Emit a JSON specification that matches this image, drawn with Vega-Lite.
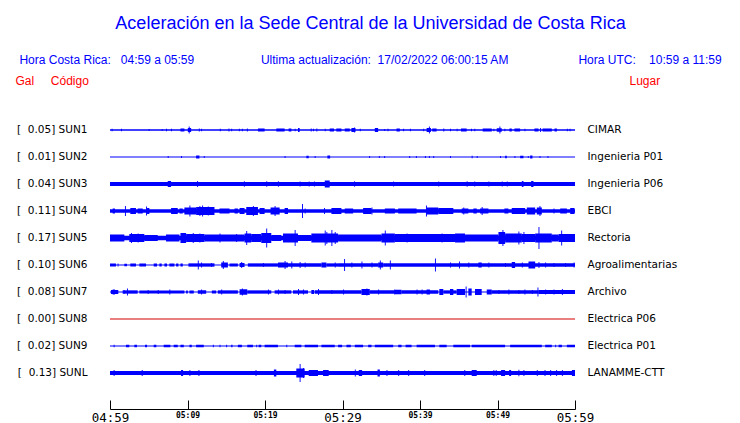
{
  "$schema": "https://vega.github.io/schema/vega-lite/v6.json",
  "width": 465,
  "height": 315,
  "autosize": {"type": "none"},
  "padding": {"left": 110, "top": 94, "right": 165, "bottom": 14},
  "background": "white",
  "config": {"view": {"stroke": null}},
  "title": {
    "text": "Aceleración en la Sede Central de la Universidad de Costa Rica",
    "subtitle": "Hora Costa Rica:\u00a0\u00a0\u00a004:59 a 05:59\u00a0\u00a0\u00a0\u00a0\u00a0\u00a0\u00a0\u00a0\u00a0\u00a0\u00a0\u00a0\u00a0\u00a0\u00a0\u00a0\u00a0\u00a0\u00a0\u00a0Ultima actualización:\u00a0\u00a017/02/2022 06:00:15 AM\u00a0\u00a0\u00a0\u00a0\u00a0\u00a0\u00a0\u00a0\u00a0\u00a0\u00a0\u00a0\u00a0\u00a0\u00a0\u00a0\u00a0\u00a0\u00a0\u00a0\u00a0Hora UTC:\u00a0\u00a0\u00a0\u00a010:59 a 11:59",
    "color": "#0000ff",
    "subtitleColor": "#0000ff",
    "font": "Liberation Sans",
    "fontSize": 18,
    "fontWeight": "normal",
    "subtitleFont": "Liberation Sans",
    "subtitleFontSize": 12,
    "anchor": "middle",
    "frame": "group",
    "dx": 28,
    "offset": 8,
    "subtitlePadding": 22
  },
  "datasets": {
    "estaciones": [
      {"codigo": "SUN1", "gal": 0.05, "etiqueta": "[\u00a0\u00a00.05] SUN1", "lugar": "CIMAR", "ruido": 1.3},
      {"codigo": "SUN2", "gal": 0.01, "etiqueta": "[\u00a0\u00a00.01] SUN2", "lugar": "Ingenieria P01", "ruido": 1.1},
      {"codigo": "SUN3", "gal": 0.04, "etiqueta": "[\u00a0\u00a00.04] SUN3", "lugar": "Ingenieria P06", "ruido": 4},
      {"codigo": "SUN4", "gal": 0.11, "etiqueta": "[\u00a0\u00a00.11] SUN4", "lugar": "EBCI", "ruido": 3.3},
      {"codigo": "SUN5", "gal": 0.17, "etiqueta": "[\u00a0\u00a00.17] SUN5", "lugar": "Rectoria", "ruido": 4.5},
      {"codigo": "SUN6", "gal": 0.10, "etiqueta": "[\u00a0\u00a00.10] SUN6", "lugar": "Agroalimentarias", "ruido": 1},
      {"codigo": "SUN7", "gal": 0.08, "etiqueta": "[\u00a0\u00a00.08] SUN7", "lugar": "Archivo", "ruido": 1},
      {"codigo": "SUN8", "gal": 0.00, "etiqueta": "[\u00a0\u00a00.00] SUN8", "lugar": "Electrica P06", "ruido": 1},
      {"codigo": "SUN9", "gal": 0.02, "etiqueta": "[\u00a0\u00a00.02] SUN9", "lugar": "Electrica P01", "ruido": 1},
      {"codigo": "SUNL", "gal": 0.13, "etiqueta": "[\u00a0\u00a00.13] SUNL", "lugar": "LANAMME-CTT", "ruido": 4}
    ],
    "senal": [
      {"s":"SUN1","t0":0.21,"t1":0.33,"a":2.5},{"s":"SUN1","t0":1.42,"t1":1.54,"a":2.5},{"s":"SUN1","t0":4.99,"t1":5.11,"a":2},{"s":"SUN1","t0":6.67,"t1":6.79,"a":2},{"s":"SUN1","t0":7.23,"t1":7.35,"a":2.5},{"s":"SUN1","t0":7.88,"t1":8.0,"a":2.5},{"s":"SUN1","t0":9.09,"t1":9.6,"a":3},{"s":"SUN1","t0":10.04,"t1":10.47,"a":4},{"s":"SUN1","t0":10.16,"t1":10.28,"a":7},{"s":"SUN1","t0":11.46,"t1":11.58,"a":3},{"s":"SUN1","t0":11.76,"t1":11.88,"a":2.5},{"s":"SUN1","t0":14.17,"t1":14.29,"a":2.5},{"s":"SUN1","t0":15.29,"t1":15.41,"a":3},{"s":"SUN1","t0":15.64,"t1":15.76,"a":2.5},{"s":"SUN1","t0":16.63,"t1":16.75,"a":2.5},{"s":"SUN1","t0":17.02,"t1":17.14,"a":2.5},{"s":"SUN1","t0":17.66,"t1":17.78,"a":3},{"s":"SUN1","t0":19.09,"t1":19.95,"a":3},{"s":"SUN1","t0":21.46,"t1":22.53,"a":3},{"s":"SUN1","t0":23.05,"t1":23.4,"a":3},{"s":"SUN1","t0":23.83,"t1":23.95,"a":2.5},{"s":"SUN1","t0":24.26,"t1":24.47,"a":4},{"s":"SUN1","t0":25.9,"t1":26.02,"a":3},{"s":"SUN1","t0":26.2,"t1":26.32,"a":2.5},{"s":"SUN1","t0":26.63,"t1":26.75,"a":3},{"s":"SUN1","t0":27.71,"t1":27.83,"a":2.5},{"s":"SUN1","t0":28.35,"t1":28.9,"a":3},{"s":"SUN1","t0":29.2,"t1":29.86,"a":3},{"s":"SUN1","t0":30.29,"t1":30.94,"a":3},{"s":"SUN1","t0":31.15,"t1":31.67,"a":4},{"s":"SUN1","t0":31.5,"t1":31.62,"a":5},{"s":"SUN1","t0":32.23,"t1":32.35,"a":2.5},{"s":"SUN1","t0":34.17,"t1":34.6,"a":4},{"s":"SUN1","t0":35.38,"t1":35.5,"a":2},{"s":"SUN1","t0":35.81,"t1":35.93,"a":2.5},{"s":"SUN1","t0":36.97,"t1":37.4,"a":3},{"s":"SUN1","t0":37.83,"t1":37.95,"a":2.5},{"s":"SUN1","t0":38.7,"t1":38.82,"a":2.5},{"s":"SUN1","t0":40.42,"t1":40.54,"a":2.5},{"s":"SUN1","t0":40.85,"t1":41.41,"a":4},{"s":"SUN1","t0":41.15,"t1":41.27,"a":7},{"s":"SUN1","t0":41.58,"t1":42.14,"a":3},{"s":"SUN1","t0":43.01,"t1":43.13,"a":3},{"s":"SUN1","t0":43.87,"t1":43.99,"a":2.5},{"s":"SUN1","t0":44.73,"t1":44.85,"a":2.5},{"s":"SUN1","t0":45.29,"t1":46.02,"a":3},{"s":"SUN1","t0":46.58,"t1":46.7,"a":2.5},{"s":"SUN1","t0":47.01,"t1":47.13,"a":2.5},{"s":"SUN1","t0":48.09,"t1":49.26,"a":3},{"s":"SUN1","t0":49.47,"t1":49.59,"a":2.5},{"s":"SUN1","t0":49.9,"t1":50.55,"a":3.5},{"s":"SUN1","t0":50.25,"t1":50.37,"a":7},{"s":"SUN1","t0":50.89,"t1":51.01,"a":2.5},{"s":"SUN1","t0":51.54,"t1":51.84,"a":3},{"s":"SUN1","t0":52.19,"t1":52.92,"a":3},{"s":"SUN1","t0":53.48,"t1":53.6,"a":2.5},{"s":"SUN1","t0":54.77,"t1":55.29,"a":3},{"s":"SUN1","t0":55.5,"t1":55.62,"a":4},{"s":"SUN1","t0":55.81,"t1":57.01,"a":3},{"s":"SUN1","t0":57.36,"t1":57.66,"a":3},{"s":"SUN1","t0":58.95,"t1":59.07,"a":2.5},{"s":"SUN1","t0":59.3,"t1":59.42,"a":2.5},

      {"s":"SUN2","t0":7.45,"t1":7.57,"a":2},{"s":"SUN2","t0":9.17,"t1":9.29,"a":2},{"s":"SUN2","t0":11.11,"t1":11.54,"a":3},{"s":"SUN2","t0":12.1,"t1":12.22,"a":2},{"s":"SUN2","t0":22.53,"t1":22.65,"a":2},{"s":"SUN2","t0":25.34,"t1":25.64,"a":2.5},{"s":"SUN2","t0":26.41,"t1":26.53,"a":2},{"s":"SUN2","t0":28.05,"t1":28.4,"a":3},{"s":"SUN2","t0":33.44,"t1":33.56,"a":2},{"s":"SUN2","t0":34.69,"t1":34.81,"a":2},{"s":"SUN2","t0":35.38,"t1":35.5,"a":2},{"s":"SUN2","t0":38.61,"t1":38.73,"a":2},{"s":"SUN2","t0":39.47,"t1":39.59,"a":2},{"s":"SUN2","t0":40.64,"t1":40.76,"a":2},{"s":"SUN2","t0":41.15,"t1":41.27,"a":2},{"s":"SUN2","t0":41.71,"t1":41.83,"a":2},{"s":"SUN2","t0":43.87,"t1":43.99,"a":2},{"s":"SUN2","t0":46.67,"t1":46.79,"a":2.5},{"s":"SUN2","t0":47.32,"t1":47.44,"a":2},{"s":"SUN2","t0":50.33,"t1":50.45,"a":2},{"s":"SUN2","t0":50.98,"t1":51.2,"a":2.5},{"s":"SUN2","t0":52.19,"t1":52.31,"a":2},{"s":"SUN2","t0":52.92,"t1":53.35,"a":2.5},{"s":"SUN2","t0":53.91,"t1":54.03,"a":2},{"s":"SUN2","t0":54.21,"t1":54.51,"a":3},{"s":"SUN2","t0":55.42,"t1":55.54,"a":2},{"s":"SUN2","t0":56.45,"t1":56.57,"a":2},

      {"s":"SUN3","t0":7.45,"t1":7.88,"a":6},{"s":"SUN3","t0":11.24,"t1":11.36,"a":6},{"s":"SUN3","t0":17.28,"t1":17.4,"a":5.5},{"s":"SUN3","t0":20.16,"t1":20.28,"a":5.5},{"s":"SUN3","t0":21.67,"t1":21.79,"a":5.5},{"s":"SUN3","t0":24.47,"t1":24.59,"a":5},{"s":"SUN3","t0":25.64,"t1":25.76,"a":5},{"s":"SUN3","t0":26.33,"t1":26.45,"a":5},{"s":"SUN3","t0":27.71,"t1":28.35,"a":7},{"s":"SUN3","t0":31.5,"t1":31.62,"a":5.5},{"s":"SUN3","t0":36.54,"t1":36.66,"a":5},{"s":"SUN3","t0":42.36,"t1":42.48,"a":5},{"s":"SUN3","t0":46.02,"t1":46.14,"a":5.5},{"s":"SUN3","t0":47.01,"t1":47.13,"a":5},{"s":"SUN3","t0":48.83,"t1":48.95,"a":5},{"s":"SUN3","t0":50.55,"t1":50.67,"a":5},{"s":"SUN3","t0":51.2,"t1":51.32,"a":5},{"s":"SUN3","t0":53.14,"t1":53.35,"a":6},{"s":"SUN3","t0":54.34,"t1":54.64,"a":6},

      {"s":"SUN4","t0":0.34,"t1":0.64,"a":5},{"s":"SUN4","t0":1.93,"t1":2.05,"a":10},{"s":"SUN4","t0":2.62,"t1":3.35,"a":6},{"s":"SUN4","t0":3.57,"t1":4.22,"a":5},{"s":"SUN4","t0":4.65,"t1":4.77,"a":9},{"s":"SUN4","t0":4.78,"t1":5.08,"a":6},{"s":"SUN4","t0":7.88,"t1":8.74,"a":6},{"s":"SUN4","t0":8.96,"t1":9.39,"a":5},{"s":"SUN4","t0":9.6,"t1":11.11,"a":7},{"s":"SUN4","t0":10.25,"t1":10.37,"a":11},{"s":"SUN4","t0":11.11,"t1":13.48,"a":8},{"s":"SUN4","t0":11.54,"t1":11.66,"a":10},{"s":"SUN4","t0":11.89,"t1":12.01,"a":11},{"s":"SUN4","t0":12.62,"t1":12.74,"a":9},{"s":"SUN4","t0":14.13,"t1":15.42,"a":5},{"s":"SUN4","t0":16.07,"t1":16.5,"a":5},{"s":"SUN4","t0":16.72,"t1":17.36,"a":6},{"s":"SUN4","t0":17.58,"t1":19.09,"a":8},{"s":"SUN4","t0":18.44,"t1":18.56,"a":10},{"s":"SUN4","t0":19.3,"t1":19.95,"a":6},{"s":"SUN4","t0":20.72,"t1":21.89,"a":7},{"s":"SUN4","t0":21.24,"t1":21.36,"a":10},{"s":"SUN4","t0":22.53,"t1":22.97,"a":6},{"s":"SUN4","t0":24.78,"t1":24.9,"a":14},{"s":"SUN4","t0":25.12,"t1":25.24,"a":5},{"s":"SUN4","t0":27.62,"t1":27.74,"a":6},{"s":"SUN4","t0":28.57,"t1":29.86,"a":6},{"s":"SUN4","t0":30.29,"t1":31.37,"a":5},{"s":"SUN4","t0":32.66,"t1":33.74,"a":6},{"s":"SUN4","t0":33.74,"t1":33.86,"a":7},{"s":"SUN4","t0":35.46,"t1":36.76,"a":5},{"s":"SUN4","t0":37.19,"t1":39.56,"a":5},{"s":"SUN4","t0":40.77,"t1":40.89,"a":11},{"s":"SUN4","t0":40.85,"t1":42.36,"a":7},{"s":"SUN4","t0":42.36,"t1":44.3,"a":6},{"s":"SUN4","t0":45.38,"t1":46.24,"a":5},{"s":"SUN4","t0":45.59,"t1":45.71,"a":7},{"s":"SUN4","t0":46.89,"t1":47.32,"a":5},{"s":"SUN4","t0":47.75,"t1":48.83,"a":5},{"s":"SUN4","t0":47.96,"t1":48.08,"a":8},{"s":"SUN4","t0":50.89,"t1":51.41,"a":5},{"s":"SUN4","t0":51.84,"t1":53.57,"a":6},{"s":"SUN4","t0":53.78,"t1":54.86,"a":7},{"s":"SUN4","t0":55.42,"t1":55.54,"a":10},{"s":"SUN4","t0":55.07,"t1":55.72,"a":7},{"s":"SUN4","t0":57.23,"t1":57.35,"a":5},{"s":"SUN4","t0":58.09,"t1":58.95,"a":5},{"s":"SUN4","t0":59.38,"t1":59.94,"a":6},

      {"s":"SUN5","t0":0,"t1":1.85,"a":7},{"s":"SUN5","t0":2.49,"t1":4.43,"a":8},{"s":"SUN5","t0":2.71,"t1":2.83,"a":10},{"s":"SUN5","t0":3.57,"t1":3.69,"a":9},{"s":"SUN5","t0":4.43,"t1":6.16,"a":6},{"s":"SUN5","t0":7.23,"t1":8.96,"a":7},{"s":"SUN5","t0":9.09,"t1":9.82,"a":10},{"s":"SUN5","t0":9.82,"t1":12.19,"a":8},{"s":"SUN5","t0":10.68,"t1":10.8,"a":10},{"s":"SUN5","t0":11.54,"t1":11.66,"a":9},{"s":"SUN5","t0":12.19,"t1":17.36,"a":7},{"s":"SUN5","t0":14.13,"t1":14.25,"a":9},{"s":"SUN5","t0":16.28,"t1":16.4,"a":8},{"s":"SUN5","t0":17.36,"t1":18.22,"a":9},{"s":"SUN5","t0":17.58,"t1":17.7,"a":14},{"s":"SUN5","t0":18.22,"t1":19.52,"a":8},{"s":"SUN5","t0":19.52,"t1":20.81,"a":10},{"s":"SUN5","t0":20.16,"t1":20.28,"a":19},{"s":"SUN5","t0":20.81,"t1":22.1,"a":6},{"s":"SUN5","t0":22.32,"t1":24.26,"a":9},{"s":"SUN5","t0":23.83,"t1":23.95,"a":16},{"s":"SUN5","t0":24.26,"t1":25.98,"a":6},{"s":"SUN5","t0":25.98,"t1":29.43,"a":9},{"s":"SUN5","t0":27.71,"t1":27.83,"a":15},{"s":"SUN5","t0":27.92,"t1":28.04,"a":12},{"s":"SUN5","t0":28.57,"t1":28.69,"a":16},{"s":"SUN5","t0":29,"t1":29.12,"a":12},{"s":"SUN5","t0":29.43,"t1":35.03,"a":7},{"s":"SUN5","t0":35.03,"t1":36.76,"a":9},{"s":"SUN5","t0":35.46,"t1":35.58,"a":15},{"s":"SUN5","t0":36.76,"t1":44.52,"a":8},{"s":"SUN5","t0":38.27,"t1":38.39,"a":9},{"s":"SUN5","t0":42.79,"t1":42.91,"a":9},{"s":"SUN5","t0":44.52,"t1":45.81,"a":9},{"s":"SUN5","t0":45.81,"t1":50.12,"a":7},{"s":"SUN5","t0":50.12,"t1":50.98,"a":12},{"s":"SUN5","t0":50.64,"t1":50.76,"a":16},{"s":"SUN5","t0":50.98,"t1":53.14,"a":9},{"s":"SUN5","t0":52.7,"t1":52.82,"a":13},{"s":"SUN5","t0":53.14,"t1":54.86,"a":8},{"s":"SUN5","t0":53.35,"t1":53.47,"a":12},{"s":"SUN5","t0":55.29,"t1":55.41,"a":22},{"s":"SUN5","t0":54.86,"t1":57.01,"a":9},{"s":"SUN5","t0":57.01,"t1":57.88,"a":7},{"s":"SUN5","t0":58.22,"t1":58.34,"a":15},{"s":"SUN5","t0":57.88,"t1":60,"a":8},

      {"s":"SUN6","t0":0,"t1":0.77,"a":3},{"s":"SUN6","t0":0.98,"t1":1.1,"a":3},{"s":"SUN6","t0":1.85,"t1":2.19,"a":2.5},{"s":"SUN6","t0":2.62,"t1":3.35,"a":3},{"s":"SUN6","t0":3.79,"t1":4.65,"a":3},{"s":"SUN6","t0":5.64,"t1":6.07,"a":3},{"s":"SUN6","t0":6.37,"t1":6.67,"a":3},{"s":"SUN6","t0":7.02,"t1":7.36,"a":3},{"s":"SUN6","t0":7.66,"t1":8.31,"a":3},{"s":"SUN6","t0":8.53,"t1":8.83,"a":3},{"s":"SUN6","t0":9.09,"t1":9.39,"a":3},{"s":"SUN6","t0":10.12,"t1":13.48,"a":3.3},{"s":"SUN6","t0":11.33,"t1":11.45,"a":9},{"s":"SUN6","t0":11.76,"t1":11.88,"a":5},{"s":"SUN6","t0":13.05,"t1":13.17,"a":4},{"s":"SUN6","t0":14.35,"t1":15.21,"a":5},{"s":"SUN6","t0":14.56,"t1":14.68,"a":8},{"s":"SUN6","t0":15.42,"t1":16.5,"a":3},{"s":"SUN6","t0":16.72,"t1":17.36,"a":4},{"s":"SUN6","t0":16.93,"t1":17.05,"a":6},{"s":"SUN6","t0":17.79,"t1":21.67,"a":3.3},{"s":"SUN6","t0":19.73,"t1":19.85,"a":4},{"s":"SUN6","t0":21.67,"t1":22.97,"a":5},{"s":"SUN6","t0":22.53,"t1":22.65,"a":8},{"s":"SUN6","t0":22.97,"t1":27.28,"a":3.3},{"s":"SUN6","t0":23.4,"t1":23.52,"a":7},{"s":"SUN6","t0":24.47,"t1":24.59,"a":6},{"s":"SUN6","t0":25.12,"t1":25.24,"a":5},{"s":"SUN6","t0":27.28,"t1":27.92,"a":5},{"s":"SUN6","t0":27.92,"t1":29.43,"a":3.3},{"s":"SUN6","t0":29,"t1":29.12,"a":5},{"s":"SUN6","t0":30.21,"t1":30.33,"a":12},{"s":"SUN6","t0":29.43,"t1":34.6,"a":3.3},{"s":"SUN6","t0":31.15,"t1":31.27,"a":5},{"s":"SUN6","t0":32.45,"t1":32.57,"a":7},{"s":"SUN6","t0":33.74,"t1":33.86,"a":5},{"s":"SUN6","t0":34.6,"t1":35.25,"a":5},{"s":"SUN6","t0":34.82,"t1":34.94,"a":9},{"s":"SUN6","t0":36.11,"t1":36.23,"a":9},{"s":"SUN6","t0":35.25,"t1":60,"a":3.3},{"s":"SUN6","t0":41.93,"t1":42.05,"a":13},{"s":"SUN6","t0":43.87,"t1":43.99,"a":5},{"s":"SUN6","t0":45.03,"t1":45.15,"a":7},{"s":"SUN6","t0":46.24,"t1":46.36,"a":5},{"s":"SUN6","t0":47.53,"t1":47.96,"a":5},{"s":"SUN6","t0":48.83,"t1":48.95,"a":5},{"s":"SUN6","t0":50.98,"t1":51.1,"a":4},{"s":"SUN6","t0":51.84,"t1":52.27,"a":6},{"s":"SUN6","t0":53.14,"t1":53.26,"a":5},{"s":"SUN6","t0":54,"t1":54.86,"a":7},{"s":"SUN6","t0":55.29,"t1":55.41,"a":6},{"s":"SUN6","t0":56.15,"t1":56.27,"a":5},{"s":"SUN6","t0":57.23,"t1":57.35,"a":4},{"s":"SUN6","t0":58.74,"t1":58.86,"a":4},{"s":"SUN6","t0":59.82,"t1":59.94,"a":5},

      {"s":"SUN7","t0":0.12,"t1":1.07,"a":4},{"s":"SUN7","t0":0.34,"t1":0.64,"a":5},{"s":"SUN7","t0":1.63,"t1":3.57,"a":3.3},{"s":"SUN7","t0":1.76,"t1":1.88,"a":4},{"s":"SUN7","t0":2.19,"t1":2.31,"a":7},{"s":"SUN7","t0":3.79,"t1":9.6,"a":3},{"s":"SUN7","t0":4.86,"t1":4.98,"a":4},{"s":"SUN7","t0":6.16,"t1":6.28,"a":4},{"s":"SUN7","t0":7.66,"t1":7.78,"a":5},{"s":"SUN7","t0":9.82,"t1":10.04,"a":3},{"s":"SUN7","t0":10.25,"t1":10.81,"a":3},{"s":"SUN7","t0":11.33,"t1":12.41,"a":3.5},{"s":"SUN7","t0":11.76,"t1":11.88,"a":5},{"s":"SUN7","t0":13.14,"t1":13.7,"a":3},{"s":"SUN7","t0":13.91,"t1":16.5,"a":3.3},{"s":"SUN7","t0":14.35,"t1":14.47,"a":5},{"s":"SUN7","t0":16.72,"t1":17.71,"a":5.5},{"s":"SUN7","t0":17.02,"t1":17.14,"a":7},{"s":"SUN7","t0":17.71,"t1":20.81,"a":3.3},{"s":"SUN7","t0":20.38,"t1":20.5,"a":5},{"s":"SUN7","t0":21.24,"t1":23.4,"a":3.3},{"s":"SUN7","t0":21.67,"t1":21.79,"a":5},{"s":"SUN7","t0":22.53,"t1":22.65,"a":4},{"s":"SUN7","t0":23.61,"t1":25.55,"a":3.3},{"s":"SUN7","t0":24.26,"t1":24.38,"a":6},{"s":"SUN7","t0":24.9,"t1":25.02,"a":5},{"s":"SUN7","t0":25.98,"t1":26.33,"a":4},{"s":"SUN7","t0":26.41,"t1":32.45,"a":3.3},{"s":"SUN7","t0":26.84,"t1":26.96,"a":6},{"s":"SUN7","t0":28.57,"t1":28.69,"a":4},{"s":"SUN7","t0":30.08,"t1":30.2,"a":5},{"s":"SUN7","t0":32.45,"t1":33.52,"a":6},{"s":"SUN7","t0":33.09,"t1":33.21,"a":7},{"s":"SUN7","t0":33.52,"t1":36.76,"a":3.3},{"s":"SUN7","t0":34.6,"t1":34.72,"a":5},{"s":"SUN7","t0":36.67,"t1":36.79,"a":5},{"s":"SUN7","t0":36.76,"t1":37.62,"a":4.5},{"s":"SUN7","t0":37.62,"t1":42.36,"a":3.3},{"s":"SUN7","t0":39.56,"t1":39.68,"a":5},{"s":"SUN7","t0":40.21,"t1":40.33,"a":5},{"s":"SUN7","t0":40.85,"t1":41.28,"a":5},{"s":"SUN7","t0":42.49,"t1":43.01,"a":6},{"s":"SUN7","t0":43.01,"t1":44.73,"a":3.3},{"s":"SUN7","t0":43.87,"t1":44.3,"a":6},{"s":"SUN7","t0":44.73,"t1":45.81,"a":6},{"s":"SUN7","t0":45.89,"t1":46.01,"a":11},{"s":"SUN7","t0":46.24,"t1":46.67,"a":7},{"s":"SUN7","t0":47.1,"t1":47.96,"a":6},{"s":"SUN7","t0":48.61,"t1":49.26,"a":5},{"s":"SUN7","t0":49.26,"t1":55.29,"a":3.3},{"s":"SUN7","t0":50.12,"t1":50.24,"a":4},{"s":"SUN7","t0":51.41,"t1":51.53,"a":5},{"s":"SUN7","t0":52.7,"t1":52.82,"a":4},{"s":"SUN7","t0":53.48,"t1":53.6,"a":5},{"s":"SUN7","t0":54.43,"t1":54.55,"a":4},{"s":"SUN7","t0":55.16,"t1":55.28,"a":9},{"s":"SUN7","t0":55.29,"t1":60,"a":4},{"s":"SUN7","t0":56.15,"t1":56.27,"a":5},{"s":"SUN7","t0":57.23,"t1":57.35,"a":5},{"s":"SUN7","t0":58.31,"t1":58.43,"a":6},{"s":"SUN7","t0":59.82,"t1":59.94,"a":4},

      {"s":"SUN9","t0":0.47,"t1":0.59,"a":2.5},{"s":"SUN9","t0":2.06,"t1":2.49,"a":2.5},{"s":"SUN9","t0":3.14,"t1":3.48,"a":2.5},{"s":"SUN9","t0":4.52,"t1":4.78,"a":2.5},{"s":"SUN9","t0":5.64,"t1":5.98,"a":2.5},{"s":"SUN9","t0":6.93,"t1":7.79,"a":2.5},{"s":"SUN9","t0":8.22,"t1":8.74,"a":2.5},{"s":"SUN9","t0":9.09,"t1":9.52,"a":2.5},{"s":"SUN9","t0":10.25,"t1":10.55,"a":2.5},{"s":"SUN9","t0":11.11,"t1":12.1,"a":2.5},{"s":"SUN9","t0":13.27,"t1":13.39,"a":2.5},{"s":"SUN9","t0":14.13,"t1":14.25,"a":2.5},{"s":"SUN9","t0":14.99,"t1":15.11,"a":2.5},{"s":"SUN9","t0":15.64,"t1":15.81,"a":2.5},{"s":"SUN9","t0":16.5,"t1":17.02,"a":2.5},{"s":"SUN9","t0":17.71,"t1":18.44,"a":2.5},{"s":"SUN9","t0":18.87,"t1":18.99,"a":2.5},{"s":"SUN9","t0":19.17,"t1":19.52,"a":2.5},{"s":"SUN9","t0":19.95,"t1":21.67,"a":2.5},{"s":"SUN9","t0":22.75,"t1":22.87,"a":2.5},{"s":"SUN9","t0":23.83,"t1":24.69,"a":2.5},{"s":"SUN9","t0":25.12,"t1":26.84,"a":2.5},{"s":"SUN9","t0":27.28,"t1":29,"a":2.5},{"s":"SUN9","t0":29.43,"t1":29.95,"a":2.5},{"s":"SUN9","t0":30.51,"t1":31.07,"a":2.5},{"s":"SUN9","t0":31.59,"t1":32.66,"a":2.5},{"s":"SUN9","t0":33.31,"t1":33.74,"a":2.5},{"s":"SUN9","t0":34.17,"t1":36.54,"a":2.5},{"s":"SUN9","t0":37.19,"t1":37.62,"a":2.5},{"s":"SUN9","t0":38.14,"t1":38.91,"a":2.5},{"s":"SUN9","t0":39.56,"t1":41.93,"a":2.5},{"s":"SUN9","t0":42.49,"t1":43.44,"a":2.5},{"s":"SUN9","t0":44.3,"t1":46.45,"a":2.5},{"s":"SUN9","t0":46.67,"t1":50.98,"a":2.5},{"s":"SUN9","t0":51.63,"t1":55.72,"a":2.5},{"s":"SUN9","t0":56.15,"t1":57.01,"a":2.5},{"s":"SUN9","t0":57.45,"t1":57.57,"a":2.5},{"s":"SUN9","t0":57.88,"t1":58.31,"a":2.5},{"s":"SUN9","t0":58.95,"t1":60,"a":2.5},

      {"s":"SUNL","t0":0.47,"t1":0.59,"a":6},{"s":"SUNL","t0":4.09,"t1":4.22,"a":6},{"s":"SUNL","t0":9.17,"t1":9.43,"a":6},{"s":"SUNL","t0":10.25,"t1":10.37,"a":6},{"s":"SUNL","t0":11.41,"t1":11.54,"a":6},{"s":"SUNL","t0":18.78,"t1":18.9,"a":6},{"s":"SUNL","t0":21.15,"t1":21.46,"a":7},{"s":"SUNL","t0":24.04,"t1":25.12,"a":9},{"s":"SUNL","t0":24.47,"t1":24.59,"a":18},{"s":"SUNL","t0":24.9,"t1":25.02,"a":10},{"s":"SUNL","t0":25.64,"t1":26.84,"a":6},{"s":"SUNL","t0":27.49,"t1":28.22,"a":6},{"s":"SUNL","t0":31.59,"t1":31.71,"a":7},{"s":"SUNL","t0":32.1,"t1":32.53,"a":6},{"s":"SUNL","t0":34.52,"t1":34.82,"a":7},{"s":"SUNL","t0":35.68,"t1":35.8,"a":6},{"s":"SUNL","t0":37.19,"t1":37.31,"a":6},{"s":"SUNL","t0":38.48,"t1":38.6,"a":6},{"s":"SUNL","t0":40.55,"t1":40.67,"a":6},{"s":"SUNL","t0":45.72,"t1":45.84,"a":6},{"s":"SUNL","t0":46.67,"t1":47.32,"a":6},{"s":"SUNL","t0":49.47,"t1":49.59,"a":6},{"s":"SUNL","t0":49.77,"t1":49.89,"a":6},{"s":"SUNL","t0":50.46,"t1":50.98,"a":6},{"s":"SUNL","t0":51.5,"t1":51.76,"a":6},{"s":"SUNL","t0":52.7,"t1":52.82,"a":6.5},{"s":"SUNL","t0":53.35,"t1":53.47,"a":6},{"s":"SUNL","t0":55.07,"t1":55.19,"a":6},{"s":"SUNL","t0":56.07,"t1":56.19,"a":6},{"s":"SUNL","t0":56.8,"t1":56.92,"a":6},{"s":"SUNL","t0":57.57,"t1":57.69,"a":6},{"s":"SUNL","t0":58.31,"t1":58.43,"a":6},{"s":"SUNL","t0":59.6,"t1":60,"a":6}
    ]
  },
  "layer": [
    {
      "data": {"name": "estaciones"},
      "mark": {"type": "bar"},
      "encoding": {
        "x": {"datum": 0, "type": "quantitative", "scale": {"domain": [0, 60], "nice": false},
          "axis": {
            "orient": "bottom",
            "values": [0, 5, 10, 15, 20, 25, 30, 35, 40, 45, 50, 55, 60],
            "labelExpr": "datum.value % 10 != 0 ? '' : '0' + floor((299 + datum.value) / 60) + ':' + (((299 + datum.value) % 60) < 10 ? '0' : '') + ((299 + datum.value) % 60)",
            "labelFont": "DejaVu Sans Mono",
            "labelFontSize": {"condition": {"test": "datum.value % 30 == 0", "value": 12.5}, "value": 8},
            "labelFontWeight": {"condition": {"test": "datum.value % 30 == 0", "value": "normal"}, "value": "bold"},
            "labelColor": "black",
            "labelBaseline": "top",
            "labelPadding": 11,
            "labelOverlap": false,
            "labelFlush": false,
            "tickSize": -9,
            "tickColor": "black",
            "domainColor": "black",
            "grid": false,
            "title": null
          }
        },
        "x2": {"datum": 60},
        "y": {
          "field": "etiqueta", "type": "nominal", "sort": null,
          "scale": {"type": "band", "paddingInner": 0, "paddingOuter": 0.833},
          "axis": {
            "orient": "left",
            "ticks": false, "domain": false,
            "labelFont": "DejaVu Sans", "labelFontSize": 10.5, "labelColor": "black",
            "labelPadding": 23,
            "title": "Gal\u00a0\u00a0\u00a0\u00a0\u00a0Código",
            "titleAngle": 0, "titleColor": "#ff0000", "titleFont": "Liberation Sans",
            "titleFontSize": 12, "titleFontWeight": "normal",
            "titleAlign": "left", "titleBaseline": "middle",
            "titleX": -95, "titleY": -14
          }
        },
        "size": {"field": "ruido", "type": "quantitative", "scale": {"domain": [0, 30], "range": [0, 30]}, "legend": null},
        "color": {"condition": {"test": "datum.gal === 0", "value": "#d40000"}, "value": "#0000ff"}
      }
    },
    {
      "data": {"name": "senal"},
      "mark": {"type": "bar", "color": "#0000ff"},
      "encoding": {
        "x": {"field": "t0", "type": "quantitative"},
        "x2": {"field": "t1"},
        "y": {
          "field": "s", "type": "nominal",
          "scale": {"type": "band", "paddingInner": 0, "paddingOuter": 0.833,
            "domain": ["SUN1", "SUN2", "SUN3", "SUN4", "SUN5", "SUN6", "SUN7", "SUN8", "SUN9", "SUNL"]},
          "axis": null
        },
        "size": {"field": "a", "type": "quantitative", "scale": {"domain": [0, 30], "range": [0, 30]}, "legend": null}
      }
    },
    {
      "data": {"name": "estaciones"},
      "mark": {"type": "point", "opacity": 0},
      "encoding": {
        "y": {
          "field": "lugar", "type": "nominal", "sort": null,
          "scale": {"type": "band", "paddingInner": 0, "paddingOuter": 0.833},
          "axis": {
            "orient": "right",
            "ticks": false, "domain": false,
            "labelFont": "DejaVu Sans", "labelFontSize": 10.5, "labelColor": "black",
            "labelPadding": 12,
            "title": "Lugar",
            "titleAngle": 0, "titleColor": "#ff0000", "titleFont": "Liberation Sans",
            "titleFontSize": 12, "titleFontWeight": "normal",
            "titleAlign": "left", "titleBaseline": "middle",
            "titleX": 54, "titleY": -14
          }
        }
      }
    }
  ],
  "resolve": {"scale": {"y": "independent"}, "axis": {"y": "independent"}}
}
